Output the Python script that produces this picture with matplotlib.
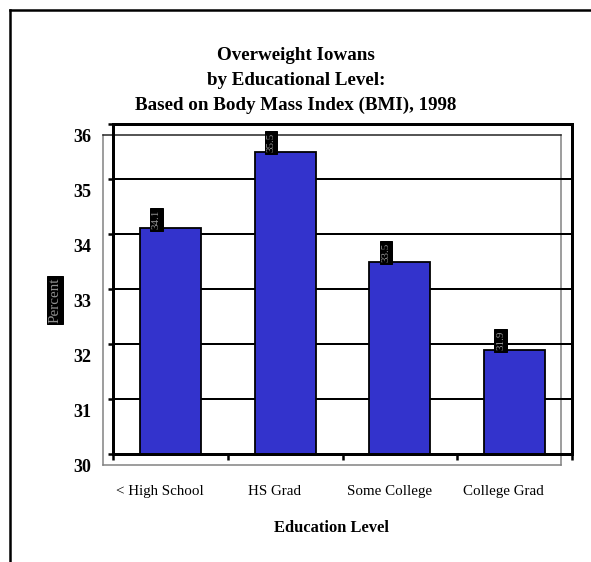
import matplotlib.pyplot as plt
import numpy as np
from matplotlib.lines import Line2D

categories = ['< High School', 'HS Grad', 'Some College', 'College Grad']
values = [34.1, 35.5, 33.5, 31.9]
value_labels = ['34.1', '35.5', '33.5', '31.9']
yticks = [30, 31, 32, 33, 34, 35, 36]

W, H = 591, 562
plt.rcParams['font.family'] = ['Liberation Serif', 'DejaVu Serif']

fig = plt.figure(figsize=(W / 72, H / 72), dpi=72)
x = np.arange(len(categories))

# back frame (grey) carries the tick labels
back = fig.add_axes([103 / W, (H - 465) / H, 458 / W, 330 / H])
back.set_xlim(-0.5, 3.5)
back.set_ylim(30, 36)
back.set_xticks(x)
back.set_xticklabels(categories, fontsize=15)
back.set_yticks(yticks)
back.set_yticklabels([str(t) for t in yticks], fontsize=18, fontweight='bold')
back.tick_params(length=0)
back.tick_params(axis='x', pad=20)
back.tick_params(axis='y', pad=12)
for s in ['left', 'right', 'bottom']:
    back.spines[s].set_color('#808080')
    back.spines[s].set_linewidth(1.5)
back.spines['top'].set_color('#202020')
back.spines['top'].set_linewidth(1.5)
back.set_xlabel('Education Level', fontsize=16.5, fontweight='bold', labelpad=22)

# front frame (black) with the bars
ax = fig.add_axes([113 / W, (H - 454) / H, 459 / W, 330 / H])
ax.set_facecolor('none')
ax.set_xlim(-0.5, 3.5)
ax.set_ylim(30, 36)
for t in yticks[1:-1]:
    ax.axhline(t, color='black', lw=2, zorder=1)
ax.bar(x, [v - 30 for v in values], bottom=30, width=0.53, color='#3333CC',
       edgecolor='black', linewidth=1.8, zorder=2)
for s in ax.spines.values():
    s.set_linewidth(3)
    s.set_color('black')
ax.set_xticks(np.arange(-0.5, 4.0, 1.0))
ax.set_yticks(yticks)
ax.set_xticklabels([])
ax.set_yticklabels([])
ax.tick_params(axis='x', direction='out', length=6, width=2.5, color='black')
ax.tick_params(axis='y', direction='out', length=5, width=2.5, color='black')
ax.tick_params(right=False, top=False)

for i, v in enumerate(values):
    ax.annotate(value_labels[i], (x[i], v), xytext=(-14, 9), textcoords='offset points',
                ha='center', va='center', rotation=90, fontsize=11, color='#909090',
                bbox=dict(boxstyle='square,pad=0.15', fc='black', ec='black'), zorder=5)

fig.text(55 / W, 1 - 300 / H, 'Percent', rotation=90, ha='center', va='center',
         fontsize=15, color='#909090',
         bbox=dict(boxstyle='square,pad=0.1', fc='black', ec='black'))

title_lines = ['Overweight Iowans', 'by Educational Level:', 'Based on Body Mass Index (BMI), 1998']
for k, line in enumerate(title_lines):
    fig.text(296 / W, 1 - (60 + 25 * k) / H, line, ha='center', va='baseline',
             fontsize=19, fontweight='bold')

# outer border (left and top only)
fig.add_artist(Line2D([10 / W, 10 / W], [0, 1 - 10 / H], transform=fig.transFigure,
                      color='black', lw=2.5))
fig.add_artist(Line2D([10 / W, 1], [1 - 10 / H, 1 - 10 / H], transform=fig.transFigure,
                      color='black', lw=2.5))

fig.savefig('out.png', dpi=72)
